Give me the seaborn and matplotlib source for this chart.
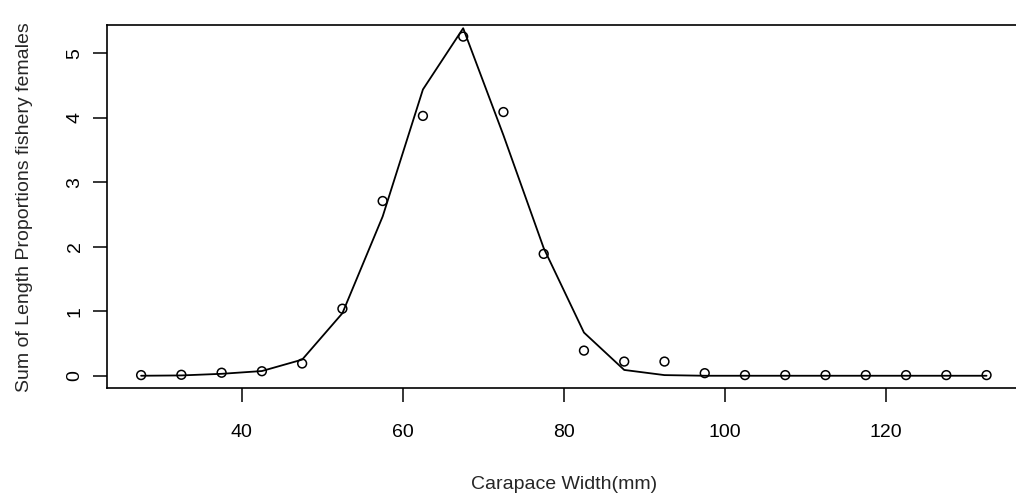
import numpy as np
import pandas as pd
import matplotlib
matplotlib.use('Agg')
import matplotlib.pyplot as plt
import seaborn as sns

# Carapace width bin midpoints (mm)
width_mm = [27.5, 32.5, 37.5, 42.5, 47.5, 52.5, 57.5, 62.5, 67.5, 72.5, 77.5,
            82.5, 87.5, 92.5, 97.5, 102.5, 107.5, 112.5, 117.5, 122.5, 127.5, 132.5]
# observed sums of length proportions (circles)
observed = [0.01, 0.015, 0.047, 0.07, 0.19, 1.04, 2.71, 4.03, 5.26, 4.09, 1.89,
            0.39, 0.22, 0.22, 0.04, 0.01, 0.01, 0.01, 0.01, 0.01, 0.01, 0.01]
# predicted (line)
predicted = [0.0, 0.005, 0.03, 0.073, 0.25, 0.97, 2.47, 4.44, 5.39, 3.73, 1.98,
             0.67, 0.09, 0.01, 0.0, 0.0, 0.0, 0.0, 0.0, 0.0, 0.0, 0.0]
x_ticks = [40, 60, 80, 100, 120]
y_ticks = [0, 1, 2, 3, 4, 5]

df = pd.DataFrame({'width': width_mm, 'obs': observed, 'pred': predicted})

sns.set_style('white')
plt.rcParams['font.family'] = ['Liberation Sans', 'DejaVu Sans']

fig = plt.figure(figsize=(10.16, 4.99), dpi=100)
ax = fig.add_axes([0.1056, 0.2218, 0.8987, 0.7281])

sns.lineplot(data=df, x='width', y='pred', color='black', linewidth=1.3, ax=ax)
sns.scatterplot(data=df, x='width', y='obs', marker='o', s=40,
                facecolor='none', edgecolor='black', linewidth=1.1, ax=ax)

ax.set_xlim(23.3, 136.7)
ax.set_ylim(-0.195, 5.44)
ax.set_xticks(x_ticks)
ax.set_yticks(y_ticks)

for sp in ax.spines.values():
    sp.set_visible(True)
    sp.set_color('black')
    sp.set_linewidth(1.2)

ax.tick_params(axis='both', which='major', bottom=True, left=True,
               direction='out', length=10, width=1.1, color='black',
               labelsize=14, labelcolor='black')
ax.tick_params(axis='x', pad=16)
ax.tick_params(axis='y', pad=7)
for lab in ax.get_yticklabels():
    lab.set_rotation(90)
    lab.set_va('center')

ax.set_xlabel('Carapace Width(mm)', fontsize=14, labelpad=25)
ax.set_ylabel('Sum of Length Proportions fishery females', fontsize=14, labelpad=24)

fig.savefig('out.png', dpi=100)
